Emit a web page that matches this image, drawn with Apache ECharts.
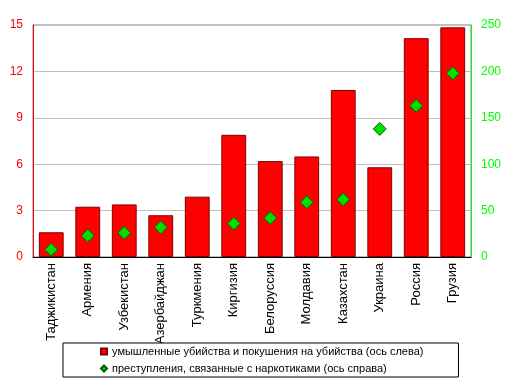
<!DOCTYPE html>
<html><head><meta charset="utf-8">
<script src="https://cdn.jsdelivr.net/npm/echarts@6/dist/echarts.min.js"></script>
<style>html,body{margin:0;padding:0;background:#fff}#c{width:511px;height:390px}</style>
</head><body><div id="c"></div>
<script>
const categories = ['Таджикистан','Армения','Узбекистан','Азербайджан','Туркмения','Киргизия','Белоруссия','Молдавия','Казахстан','Украина','Россия','Грузия'];
const murders = [1.6, 3.25, 3.4, 2.7, 3.9, 7.9, 6.2, 6.5, 10.8, 5.8, 14.15, 14.85];
const drugs = [8, 23, 26, 32, null, 36, 42, 59, 62, 138, 163, 198];
const leftTicks = {min: 0, max: 15, interval: 3};
const rightTicks = {min: 0, max: 250, interval: 50};
const names = ['умышленные убийства и покушения на убийства (ось слева)', 'преступления, связанные с наркотиками (ось справа)'];

const chart = echarts.init(document.getElementById('c'));
const font = 'Liberation Sans, Arial, sans-serif';
chart.setOption({
  animation: false,
  textStyle: {fontFamily: font},
  grid: {left: 33, right: 40, top: 25, bottom: 133, show: true, borderColor: '#808080', borderWidth: 1, backgroundColor: '#fff'},
  legend: {
    orient: 'vertical', left: 63, top: 343, align: 'left',
    padding: [3, 35, 3, 37], itemGap: 6,
    borderColor: '#000', borderWidth: 1, backgroundColor: '#fff',
    textStyle: {fontFamily: font, fontSize: 11, color: '#000'},
    itemWidth: 6, itemHeight: 6,
    data: [{name: names[0], icon: 'rect'}, {name: names[1], icon: 'diamond'}]
  },
  xAxis: {
    type: 'category', data: categories,
    axisLine: {lineStyle: {color: '#000', width: 1}},
    axisTick: {show: false},
    axisLabel: {rotate: 90, color: '#000', fontSize: 13, margin: 6, fontFamily: font, interval: 0},
    splitLine: {show: false}
  },
  yAxis: [
    {type: 'value', min: leftTicks.min, max: leftTicks.max, interval: leftTicks.interval, position: 'left',
     axisLine: {show: true, lineStyle: {color: '#ff0000'}}, axisTick: {show: false},
     axisLabel: {color: '#ff0000', fontSize: 12, margin: 10, fontFamily: font},
     splitLine: {lineStyle: {color: '#c0c0c0'}}},
    {type: 'value', min: rightTicks.min, max: rightTicks.max, interval: rightTicks.interval, position: 'right',
     axisLine: {show: true, lineStyle: {color: '#00ff00'}}, axisTick: {show: false},
     axisLabel: {color: '#00ff00', fontSize: 12, margin: 10, fontFamily: font},
     splitLine: {show: false}}
  ],
  series: [
    {name: names[0], type: 'bar', data: murders, yAxisIndex: 0, barCategoryGap: '32%',
     itemStyle: {color: '#ff0000', borderColor: '#800000', borderWidth: 1}},
    {name: names[1], type: 'scatter', data: drugs, yAxisIndex: 1, symbol: 'diamond', symbolSize: 13,
     itemStyle: {color: '#00e000', borderColor: '#006000', borderWidth: 1, opacity: 1}}
  ]
});
</script></body></html>
